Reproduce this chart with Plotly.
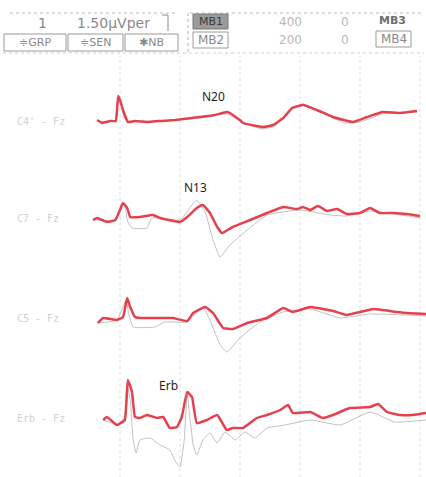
import plotly.graph_objects as go

W, H = 426, 477

# ---------------- data (time in ms, amplitude in µV) ----------------
CHANNELS = ["C4' - Fz", "C7 - Fz", "C5 - Fz", "Erb - Fz"]
PEAKS = ["N20", "N13", "", "Erb"]
PEAK_T = [15.5, 12.5, None, 8.0]
PEAK_A = [2.5, 3.1, None, 3.3]
TICKS_MS = [0, 10, 20, 30, 40, 50]

c4_t = [-3.8, -3.0, -2.3, -1.7, -0.7, -0.5, -0.3, 0.0, 0.5, 1.0, 1.3, 2.5, 4.7, 6.5, 9.2, 13.3, 15.8,
        17.8, 18.3, 20.0, 20.5, 23.8, 25.5, 27.2, 28.7, 30.5, 32.8, 35.5, 38.8, 41.2, 43.8, 46.7, 49.5]
c4_a = [0.1, -0.2, -0.1, 0.0, 0.0, 1.1, 2.5, 2.1, 1.1, 0.3, -0.1, 0.0, -0.1, 0.0, 0.1, 0.4, 0.6,
        0.9, 0.8, 0.1, -0.2, -0.6, -0.4, 0.3, 1.3, 1.6, 1.1, 0.4, -0.1, 0.4, 0.9, 0.8, 1.0]
c4_t2 = [-3.8, -0.7, -0.3, 0.2, 0.7, 1.2, 6.5, 13.3, 17.8, 20.0, 23.7, 25.8, 28.3, 30.5, 33.3, 37.5,
         40.0, 43.8, 49.5]
c4_a2 = [0.0, 0.0, 2.1, 1.6, 0.3, 0.0, 0.0, 0.3, 0.7, 0.0, -0.8, -0.5, 1.1, 1.7, 0.9, -0.2,
         -0.1, 0.7, 0.9]

c7_t = [-4.5, -3.8, -2.2, -0.8, 0.0, 0.5, 1.2, 1.7, 3.3, 5.5, 6.7, 10.0, 11.2, 12.8, 13.8, 15.0, 16.2,
        17.0, 18.8, 21.7, 24.5, 27.2, 29.5, 30.5, 31.7, 33.0, 34.5, 36.2, 37.8, 40.0, 41.7, 43.3,
        45.5, 47.8, 50.0]
c7_a = [-0.2, 0.0, -0.4, -0.2, 0.8, 1.5, 1.0, 0.1, 0.1, 0.3, 0.0, -0.4, 0.1, 1.0, 1.3, 0.5, -0.9,
        -1.5, -0.9, -0.2, 0.5, 1.1, 0.9, 1.1, 0.8, 1.2, 0.7, 0.9, 0.4, 0.5, 1.0, 0.5,
        0.5, 0.4, 0.2]
c7_t2 = [-4.5, -0.8, 0.2, 0.7, 1.3, 2.0, 4.5, 5.3, 10.0, 12.0, 12.8, 14.2, 15.5, 16.7, 18.3, 21.2,
         24.5, 30.0, 35.0, 37.8, 41.7, 50.0]
c7_a2 = [-0.2, -0.2, 1.3, 1.4, -0.4, -1.0, -1.0, 0.0, -0.2, 1.3, 1.8, 0.6, -2.2, -3.9, -2.7, -1.2,
         0.3, 0.8, 0.3, 0.2, 0.7, 0.0]

c5_t = [-3.7, -2.8, -0.5, 0.5, 1.2, 1.7, 2.5, 3.3, 6.2, 8.8, 11.2, 12.2, 14.2, 15.5, 17.2, 18.8,
        21.2, 24.5, 27.2, 28.8, 31.7, 33.8, 35.5, 37.8, 40.0, 42.2, 46.2, 47.8, 51.0]
c5_a = [-0.5, 0.0, -0.2, 0.1, 2.0, 1.1, 0.1, 0.0, 0.0, 0.0, -0.3, 0.5, 1.1, 0.5, -1.0, -1.1,
        -0.5, 0.0, 1.0, 0.6, 1.1, 0.9, 0.7, 0.3, 0.6, 0.9, 0.6, 0.5, 0.4]
c5_t2 = [-3.7, -0.5, 1.0, 1.5, 2.2, 5.8, 7.5, 11.2, 13.8, 15.0, 16.7, 17.8, 20.0, 23.3, 27.2, 31.7,
         36.7, 41.7, 51.0]
c5_a2 = [-0.5, -0.2, 1.8, 0.3, -0.9, -0.9, -0.4, -0.4, 1.1, -0.2, -2.7, -3.4, -2.0, -0.4, 0.6, 0.9,
         0.0, 0.4, 0.2]

erb_t = [-2.8, -2.2, -0.5, 0.8, 1.3, 2.0, 2.5, 3.3, 4.5, 6.2, 7.2, 8.3, 9.5, 10.3, 11.2, 12.0, 12.8,
         14.5, 16.2, 17.8, 18.8, 20.5, 22.8, 24.5, 26.7, 28.0, 28.8, 31.7, 33.8, 35.5, 38.3, 41.7,
         43.0, 44.5, 46.7, 48.8, 51.0]
erb_a = [-0.2, 0.1, -0.7, -0.2, 3.8, 2.6, 0.1, 0.0, 0.3, 0.0, 0.1, -1.0, -0.9, 0.1, 2.6, 2.1, -0.5,
         -0.2, 0.3, -1.2, -1.0, -1.0, 0.0, 0.3, 0.8, 1.3, 0.5, 0.6, 0.0, 0.3, 1.0, 1.1,
         1.4, 0.6, 0.3, 0.3, 0.5]
erb_t2 = [-2.8, -0.5, 0.7, 1.2, 1.7, 2.2, 2.7, 3.3, 5.0, 6.7, 8.3, 9.3, 10.0, 10.7, 11.2, 11.7, 12.2,
          12.8, 13.8, 15.0, 16.2, 17.5, 19.2, 20.8, 22.5, 24.5, 27.5, 31.7, 36.7, 41.7, 45.8, 51.0]
erb_a2 = [-0.2, -0.6, 0.0, 3.3, 1.8, -2.2, -3.5, -2.2, -2.0, -2.7, -3.2, -4.4, -4.9, -2.2, 2.3, -0.2,
          -2.7, -3.7, -2.2, -1.5, -2.5, -1.4, -2.2, -1.4, -2.0, -1.0, -0.7, -0.2, -0.7, 0.6, -0.4, -0.2]

MAIN = [(c4_t, c4_a), (c7_t, c7_a), (c5_t, c5_a), (erb_t, erb_a)]
SECOND = [(c4_t2, c4_a2), (c7_t2, c7_a2), (c5_t2, c5_a2), (erb_t2, erb_a2)]

# ---------------- layout constants ----------------
OFFSETS = [-12.1, -21.8, -31.8, -41.8]   # vertical baseline of each channel (display µV)
X_RANGE = [-20.0, 51.0]
Y_RANGE = [-47.7, 0.0]
RED = "#e5404e"
GREY = "#a6a6a6"

fig = go.Figure()

# grid lines (dotted vertical)
for tk in TICKS_MS:
    fig.add_shape(type="line", xref="x", yref="paper", x0=tk, x1=tk, y0=0, y1=1 - 56 / H,
                  line=dict(color="#dedede", width=1, dash="dot"), layer="below")

for i in range(4):
    t2, a2 = SECOND[i]
    fig.add_trace(go.Scatter(x=t2, y=[OFFSETS[i] + v for v in a2], mode="lines",
                             line=dict(color=GREY, width=0.7, shape="spline", smoothing=0.4),
                             hoverinfo="skip", showlegend=False))
    t, a = MAIN[i]
    fig.add_trace(go.Scatter(x=t, y=[OFFSETS[i] + v for v in a], mode="lines",
                             line=dict(color=RED, width=2.5, shape="spline", smoothing=0.35),
                             name=CHANNELS[i], showlegend=False))
    fig.add_annotation(x=-17.5, y=OFFSETS[i], xref="x", yref="y", text=CHANNELS[i], showarrow=False,
                       xanchor="left", yanchor="middle",
                       font=dict(family="DejaVu Sans Mono", size=10, color="#d2d2d2"))
    if PEAKS[i]:
        fig.add_annotation(x=PEAK_T[i], y=OFFSETS[i] + PEAK_A[i], xref="x", yref="y", text=PEAKS[i],
                           showarrow=False, xanchor="center", yanchor="middle",
                           font=dict(family="Noto Sans", size=12, color="#1e1e1e"))

# ---------------- header (instrument panel) ----------------
def px(x):
    return x / W

def py(y):
    return 1 - y / H

def box(x0, y0, x1, y1, fill=None, color="#9a9a9a"):
    fig.add_shape(type="rect", xref="paper", yref="paper", x0=px(x0), x1=px(x1), y0=py(y1), y1=py(y0),
                  line=dict(color=color, width=1), fillcolor=fill or "rgba(0,0,0,0)")

def label(x, y, s, size=11, color="#8a8a8a", anchor="center", family="DejaVu Sans"):
    fig.add_annotation(x=px(x), y=py(y), xref="paper", yref="paper", text=s, showarrow=False,
                       xanchor=anchor, yanchor="middle", font=dict(family=family, size=size, color=color))

def hline(x0, x1, y, dash="dot", color="#b8b8b8"):
    fig.add_shape(type="line", xref="paper", yref="paper", x0=px(x0), x1=px(x1), y0=py(y), y1=py(y),
                  line=dict(color=color, width=1, dash=dash))

hline(10, 178, 13)
hline(190, 424, 13)
hline(3, 424, 53, color="#cccccc")
fig.add_shape(type="line", xref="paper", yref="paper", x0=px(188), x1=px(188), y0=py(52), y1=py(12),
              line=dict(color="#b0b0b0", width=1, dash="dot"))

# scale box
fig.add_shape(type="line", xref="paper", yref="paper", x0=px(168), x1=px(168), y0=py(31), y1=py(15),
              line=dict(color="#8a8a8a", width=1))
fig.add_shape(type="line", xref="paper", yref="paper", x0=px(162), x1=px(168), y0=py(15), y1=py(15),
              line=dict(color="#8a8a8a", width=1))
label(42, 23, "1", size=14)
label(114, 23, "1.50µVper", size=14)
box(4, 34, 66, 51)
label(35, 42.5, "≑GRP", size=11)
box(68, 34, 123, 51)
label(95.5, 42.5, "≑SEN", size=11)
box(125, 34, 178, 51)
label(151.5, 42.5, "✱NB", size=11)

box(193, 14, 228, 29, fill="#9b9b9b", color="#777777")
label(210.5, 21.5, "MB1", size=11, color="#3a3a3a")
label(290, 22, "400", size=12, color="#b8b8b8")
label(345, 22, "0", size=12, color="#b8b8b8")
label(392, 21, "<b>MB3</b>", size=11, color="#6e6e6e")

box(193, 32, 228, 48)
label(210.5, 40, "MB2", size=12)
label(290, 40, "200", size=12, color="#b8b8b8")
label(345, 40, "0", size=12, color="#b8b8b8")
box(376, 31, 411, 47)
label(393.5, 39, "MB4", size=12)

fig.update_layout(
    width=W, height=H, autosize=False,
    margin=dict(l=0, r=0, t=0, b=0),
    paper_bgcolor="white", plot_bgcolor="white",
    xaxis=dict(range=X_RANGE, visible=False, fixedrange=True),
    yaxis=dict(range=Y_RANGE, visible=False, fixedrange=True),
    showlegend=False,
)

fig.write_html("out.html", config={"displayModeBar": False},
               post_script="document.body.style.margin='0';")
